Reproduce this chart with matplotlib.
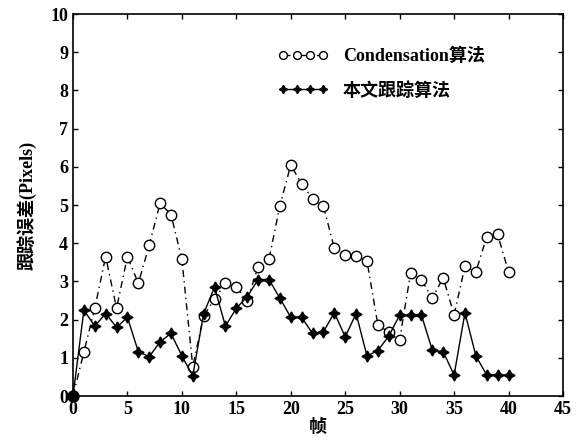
import matplotlib
matplotlib.use('Agg')
import matplotlib.pyplot as plt

plt.rcParams['font.family'] = ['Liberation Serif', 'Noto Sans CJK SC']
plt.rcParams['font.weight'] = 'bold'

# 帧序号
frames = list(range(0, 41))

# Condensation 算法误差
cond_err = [0.0, 1.15, 2.3, 3.65, 2.3, 3.65, 2.95, 3.95, 5.05, 4.75,
            3.58, 0.77, 2.1, 2.54, 2.95, 2.85, 2.5, 3.38, 3.58, 4.98,
            6.05, 5.55, 5.17, 4.97, 3.87, 3.69, 3.66, 3.54, 1.86, 1.67,
            1.48, 3.21, 3.04, 2.56, 3.1, 2.12, 3.4, 3.25, 4.17, 4.23,
            3.25]

# 本文跟踪算法误差
ours_err = [0.0, 2.25, 1.83, 2.16, 1.8, 2.06, 1.16, 1.03, 1.42, 1.64,
            1.05, 0.53, 2.16, 2.85, 1.83, 2.3, 2.6, 3.05, 3.05, 2.56,
            2.06, 2.06, 1.64, 1.68, 2.18, 1.55, 2.16, 1.05, 1.19, 1.57,
            2.12, 2.12, 2.12, 1.2, 1.16, 0.55, 2.18, 1.05, 0.55, 0.55,
            0.55]

fig = plt.figure(figsize=(5.84, 4.45), dpi=100)
ax = fig.add_axes([0.125, 0.110, 0.839, 0.8585])

ax.plot(frames, cond_err, linestyle=(0, (5, 3, 1, 3)), color='black', linewidth=1.0,
        marker='o', markersize=7.5, markerfacecolor='white',
        markeredgecolor='black', markeredgewidth=1.0,
        label='Condensation算法')
ax.plot(frames, ours_err, linestyle='-', color='black', linewidth=1.0,
        marker=(4, 1, 0), markersize=8, markerfacecolor='black',
        markeredgecolor='black', label='本文跟踪算法')
ax.plot([0], [0], 'o', color='black', markersize=8, clip_on=False, zorder=5)

ax.set_xlim(0, 45)
ax.set_ylim(0, 10)
ax.set_xticks(range(0, 46, 5))
ax.set_yticks(range(0, 11))
ax.tick_params(direction='in', top=True, right=True, labelsize=13, width=1)
for s in ax.spines.values():
    s.set_linewidth(1.2)

ax.set_xlabel('帧', fontsize=13, fontweight='bold', labelpad=1)
ax.set_ylabel('跟踪误差(Pixels)', fontsize=13, fontweight='bold', labelpad=10)

ax.legend(loc='upper left', bbox_to_anchor=(0.385, 0.955), frameon=False,
          numpoints=4, handlelength=2.8, labelspacing=0.95, fontsize=13,
          handletextpad=0.8, markerscale=0.75)

fig.savefig('out.png', dpi=100)
